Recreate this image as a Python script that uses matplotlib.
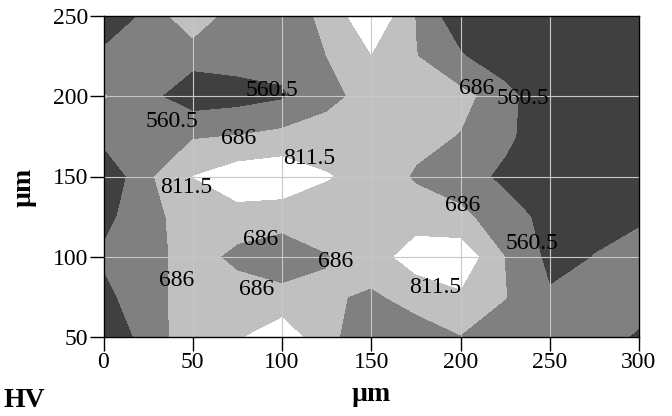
import numpy as np
import matplotlib
matplotlib.use('Agg')
import matplotlib.pyplot as plt

plt.rcParams['font.family'] = ['Liberation Serif', 'DejaVu Serif']

# measurement grid (um) and hardness map HV
x_um = [0, 25, 50, 75, 100, 125, 150, 175, 200, 225, 250, 275, 300]
y_um = [50, 75, 100, 125, 150, 175, 200, 225, 250]
hv = [
    [500, 590, 790, 795, 890, 720, 600, 640, 680, 620, 600, 610, 545],  # y=50
    [530, 630, 754, 760, 725, 700, 670, 720, 790, 690, 572, 605, 615],  # y=75
    [575, 630, 750, 645, 605, 680, 740, 880, 900, 683, 530, 562, 600],  # y=100
    [530, 630, 770, 770, 740, 740, 760, 745, 705, 640, 500, 540, 545],  # y=125
    [450, 665, 812, 880, 900, 820, 760, 672, 640, 520, 430, 430, 430],  # y=150
    [600, 620, 675, 690, 720, 740, 780, 720, 680, 600, 435, 430, 430],  # y=175
    [695, 590, 490, 510, 545, 650, 730, 760, 720, 620, 420, 420, 420],  # y=200
    [590, 610, 600, 610, 600, 686, 805, 690, 575, 450, 430, 430, 430],  # y=225
    [460, 590, 790, 600, 640, 705, 930, 680, 460, 430, 430, 430, 430],  # y=250
]
levels = [560.5, 686, 811.5]
shades = ['#404040', '#808080', '#c0c0c0', '#ffffff']

# contour value labels: (x, y, level index)
label_pos = [
    (94.4, 203.3, 0), (38.5, 184, 0), (75.5, 173.4, 1), (115, 161.2, 2),
    (46.6, 143.3, 2), (209, 204.7, 1), (234.8, 198.5, 0), (201.3, 131.8, 1),
    (240, 108, 0), (88, 111, 1), (129.8, 97.2, 1), (40.8, 85.1, 1),
    (85.8, 79.9, 1), (185.8, 81, 2),
]

X, Y = np.meshgrid(x_um, y_um)
Z = np.array(hv, dtype=float)

fig = plt.figure(figsize=(6.72, 4.16), dpi=100)
ax = fig.add_axes([103.5 / 672, 79 / 416, 535.5 / 672, 321 / 416])

ax.contourf(X, Y, Z, levels=[0] + levels + [2000], colors=shades, antialiased=False)

for px, py, k in label_pos:
    ax.text(px, py, f'{levels[k]:g}', fontsize=17, ha='center', va='center', color='black')

ax.set_xlim(0, 300)
ax.set_ylim(50, 250)
ax.set_xticks(np.arange(0, 301, 50))
ax.set_yticks(np.arange(50, 251, 50))
ax.tick_params(direction='out', length=10, width=1, labelsize=17, pad=1, colors='black')
ax.grid(True, color='#c8c8c8', lw=0.8)
for s in ax.spines.values():
    s.set_linewidth(1)

ax.set_xlabel('\u00b5m', fontsize=20, fontweight='bold', labelpad=6)
ax.set_ylabel('\u00b5m', fontsize=20, fontweight='bold')
ax.yaxis.set_label_coords(-0.126, 0.467)
fig.text(0.005, 0.007, 'HV', fontsize=20, fontweight='bold', ha='left', va='bottom')

fig.savefig('out.png', dpi=100)
